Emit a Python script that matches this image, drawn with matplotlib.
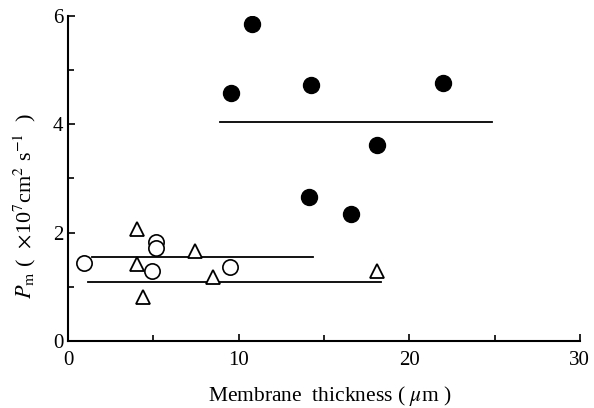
import matplotlib
matplotlib.use("Agg")
import matplotlib.pyplot as plt
from matplotlib.ticker import MultipleLocator

plt.rcParams["font.family"] = "Liberation Serif"
plt.rcParams["mathtext.fontset"] = "stix"

# membrane thickness (um) vs permeability Pm (x1e7 cm2/s)
filled_x = [10.8, 9.55, 14.25, 22.0, 18.1, 14.1, 16.6]
filled_y = [5.85, 4.57, 4.73, 4.77, 3.62, 2.66, 2.35]

open_x = [0.95, 5.15, 5.15, 4.95, 9.5]
open_y = [1.44, 1.83, 1.71, 1.29, 1.36]

tri_x = [4.05, 4.05, 4.4, 7.45, 8.5, 18.1]
tri_y = [2.06, 1.42, 0.82, 1.67, 1.18, 1.30]

# mean levels: (x start, x end, value)
filled_mean = (8.9, 24.85, 4.04)
open_mean = (1.4, 14.35, 1.56)
tri_mean = (1.2, 18.35, 1.09)

fig = plt.figure(figsize=(5.94, 4.08), dpi=100)
ax = fig.add_axes([0.1145, 0.164, 0.8617, 0.797])

for x0, x1, y in (filled_mean, open_mean, tri_mean):
    ax.plot([x0, x1], [y, y], color="black", lw=1.3, zorder=1)

ax.plot(filled_x, filled_y, "o", ms=11.5, color="black", zorder=3)
ax.plot(open_x, open_y, "o", ms=11, mfc="white", mec="black", mew=1.2, zorder=3)
ax.plot(tri_x, tri_y, "^", ms=10.5, mfc="white", mec="black", mew=1.3, zorder=3)

ax.set_xlim(0, 30)
ax.set_ylim(0, 6)
ax.xaxis.set_major_locator(MultipleLocator(10))
ax.xaxis.set_minor_locator(MultipleLocator(5))
ax.yaxis.set_major_locator(MultipleLocator(2))
ax.yaxis.set_minor_locator(MultipleLocator(1))
ax.tick_params(which="both", direction="in", labelsize=15, width=1.2)
ax.tick_params(which="major", length=5)
ax.tick_params(which="minor", length=4)
ax.tick_params(axis="x", pad=7)

for s in ("top", "right"):
    ax.spines[s].set_visible(False)
for s in ("left", "bottom"):
    ax.spines[s].set_linewidth(1.5)

ax.set_xlabel(r"Membrane  thickness ( $\mu$m )", fontsize=15.5)
ax.set_ylabel(r"$P_{\rm m}$ (  $\times$10$^7$cm$^2$ s$^{-1}$  )", fontsize=16)
ax.xaxis.set_label_coords(0.512, -0.133)
ax.yaxis.set_label_coords(-0.058, 0.415)

fig.savefig("out.png", dpi=100)
